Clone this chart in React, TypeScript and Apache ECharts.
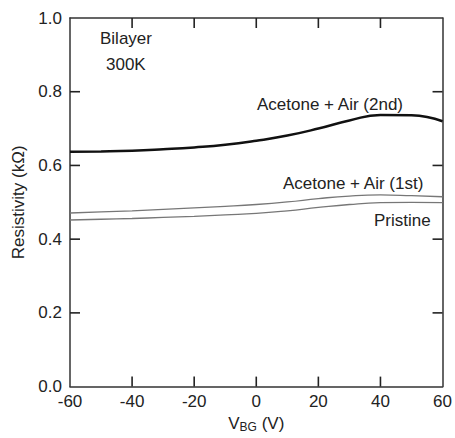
import React, { useEffect, useRef } from "react";
import * as echarts from "echarts";

const vbg = [-60, -50, -40, -30, -20, -10, 0, 10, 20, 30, 40, 50, 60];
const second = [0.637, 0.638, 0.640, 0.644, 0.649, 0.656, 0.667, 0.681, 0.700, 0.722, 0.737, 0.736, 0.720];
const first = [0.471, 0.474, 0.477, 0.481, 0.485, 0.489, 0.494, 0.501, 0.510, 0.517, 0.520, 0.518, 0.515];
const pristine = [0.452, 0.454, 0.456, 0.459, 0.462, 0.466, 0.470, 0.477, 0.486, 0.494, 0.499, 0.500, 0.499];
const xTicks = [-40, -20, 0, 20, 40];
const yTicks = [0.2, 0.4, 0.6, 0.8];

const FONT = "Liberation Sans, Arial, sans-serif";
const FS = 17;
const TICK = 10;
const AX = "#222";

export default function App() {
  const ref = useRef<HTMLDivElement>(null);
  useEffect(() => {
    if (!ref.current) return;
    const chart = echarts.init(ref.current, null, { renderer: "svg" });
    const axisLine = () => ({ show: true, onZero: false, lineStyle: { color: "#333", width: 1.5 } });
    const mk = (d: number[]) => vbg.map((x, i) => [x, d[i]]);
    const txt = (text: string, left: number, top: number) => ({
      type: "text", left, top, style: { text, fontSize: FS, fontFamily: FONT, fill: "#222" },
    });
    const seg = (x1: number, y1: number, x2: number, y2: number) => ({
      type: "line", z: 100, shape: { x1, y1, x2, y2 }, style: { stroke: AX, lineWidth: 1.6 },
    });
    const labels = [
      txt("Bilayer", 100, 30),
      txt("300K", 106, 56),
      txt("Acetone + Air (2nd)", 257, 96),
      txt("Acetone + Air (1st)", 283, 175),
      txt("Pristine", 374, 212),
    ];
    chart.setOption({
      animation: false,
      backgroundColor: "#fff",
      textStyle: { fontFamily: FONT },
      grid: { left: 70, right: 11, top: 18, bottom: 45 },
      xAxis: [
        {
          type: "value", min: -60, max: 60, interval: 20,
          axisLine: axisLine(), axisTick: { show: false }, splitLine: { show: false },
          axisLabel: { color: "#222", fontSize: FS, fontFamily: FONT, margin: 6 },
          name: "V{sub|BG} (V)", nameLocation: "middle", nameGap: 19,
          nameTextStyle: {
            color: "#222", fontSize: FS, fontFamily: FONT,
            rich: { sub: { fontSize: 12, fontFamily: FONT, color: "#222", verticalAlign: "bottom", padding: [8, 0, 0, 0] } },
          },
        },
        {
          type: "value", position: "top", min: -60, max: 60, interval: 20,
          axisLine: axisLine(), axisTick: { show: false }, axisLabel: { show: false }, splitLine: { show: false },
        },
      ],
      yAxis: [
        {
          type: "value", min: 0, max: 1, interval: 0.2,
          axisLine: axisLine(), axisTick: { show: false }, splitLine: { show: false },
          axisLabel: { color: "#222", fontSize: FS, fontFamily: FONT, margin: 8, formatter: (v: number) => v.toFixed(1) },
          name: "Resistivity (kΩ)", nameLocation: "middle", nameGap: 42,
          nameTextStyle: { color: "#222", fontSize: FS, fontFamily: FONT },
        },
        {
          type: "value", position: "right", min: 0, max: 1, interval: 0.2,
          axisLine: axisLine(), axisTick: { show: false }, axisLabel: { show: false }, splitLine: { show: false },
        },
      ],
      series: [
        { type: "line", data: mk(second), smooth: true, showSymbol: false, lineStyle: { color: "#111", width: 2.5 } },
        { type: "line", data: mk(first), smooth: true, showSymbol: false, lineStyle: { color: "#777", width: 1.3 } },
        { type: "line", data: mk(pristine), smooth: true, showSymbol: false, lineStyle: { color: "#777", width: 1.3 } },
      ],
      graphic: labels,
    });
    const px = (x: number, y: number) => chart.convertToPixel({ xAxisIndex: 0, yAxisIndex: 0 }, [x, y]) as number[];
    const ticks: any[] = [];
    xTicks.forEach((x) => {
      const b = px(x, 0);
      const t = px(x, 1);
      ticks.push(seg(b[0], b[1], b[0], b[1] - TICK), seg(t[0], t[1], t[0], t[1] + TICK));
    });
    yTicks.forEach((y) => {
      const l = px(-60, y);
      const r = px(60, y);
      ticks.push(seg(l[0], l[1], l[0] + TICK, l[1]), seg(r[0], r[1], r[0] - TICK, r[1]));
    });
    chart.setOption({ graphic: [...labels, ...ticks] });
    return () => chart.dispose();
  }, []);
  return <div ref={ref} style={{ position: "fixed", left: 0, top: 0, width: 455, height: 438 }} />;
}
